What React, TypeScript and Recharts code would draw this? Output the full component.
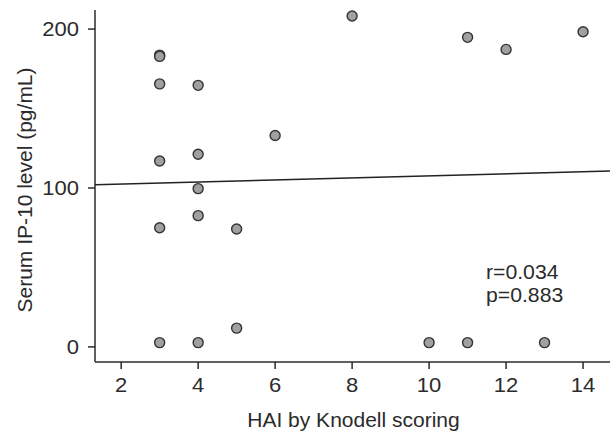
import { ComposedChart, Scatter, XAxis, YAxis, Label } from 'recharts'

// HAI by Knodell scoring vs serum IP-10 level
const haiScores = [3, 3, 3, 3, 3, 3, 4, 4, 4, 4, 4, 5, 5, 6, 8, 10, 11, 11, 12, 13, 14]
const ip10Levels = [183.6, 182.8, 165.5, 117, 75, 2.7, 164.6, 121.2, 99.6, 82.6, 2.7, 74.2, 11.8, 133, 208.2, 2.7, 194.8, 2.7, 187.2, 2.7, 198.3]

// fitted regression line end points
const fitX = [1.32, 14.7]
const fitY = [102, 110.7]

const xTicks = [2, 4, 6, 8, 10, 12, 14]
const yTicks = [0, 100, 200]

const points = haiScores.map((x, i) => ({ x, y: ip10Levels[i] }))
const fit = fitX.map((x, i) => ({ x, y: fitY[i] }))

const font = 'Arial, "Liberation Sans", sans-serif'
const ink = '#2b2b2b'

const Dot = (props: any) => (
  <circle cx={props.cx} cy={props.cy} r={5} fill="#a0a0a0" stroke="#333" strokeWidth={1.4} />
)

// tick text is a bit wide in the original, stretch it slightly
const XTick = (props: any) => (
  <g transform={`translate(${props.x},${props.y})`}>
    <text transform="scale(1.1,1)" textAnchor="middle" dy={18} fill={ink} fontSize={20} fontFamily={font}>
      {props.payload.value}
    </text>
  </g>
)

const YTick = (props: any) => (
  <g transform={`translate(${props.x},${props.y})`}>
    <text transform="scale(1.1,1)" textAnchor="end" dy={7} fill={ink} fontSize={20} fontFamily={font}>
      {props.payload.value}
    </text>
  </g>
)

export default function App() {
  return (
    <div style={{ position: 'absolute', left: 0, top: 0, width: 610, height: 433, background: '#fff', fontFamily: font }}>
      <ComposedChart width={610} height={433} margin={{ top: 10, right: 0, bottom: 0, left: 0 }}>
        <XAxis
          type="number"
          dataKey="x"
          domain={[1.32, 14.7]}
          ticks={xTicks}
          allowDataOverflow
          height={71}
          tickSize={7}
          tickMargin={5}
          stroke={ink}
          strokeWidth={1.5}
          tick={XTick}
        >
          <Label
            content={(p: any) => (
              <text x={p.viewBox.x + p.viewBox.width / 2 + 1} y={p.viewBox.y + 65} textAnchor="middle" fill={ink} fontSize={21} fontFamily={font}>
                HAI by Knodell scoring
              </text>
            )}
          />
        </XAxis>
        <YAxis
          type="number"
          dataKey="y"
          domain={[-9.5, 212]}
          ticks={yTicks}
          allowDataOverflow
          width={95}
          tickSize={7}
          tickMargin={9}
          stroke={ink}
          strokeWidth={1.5}
          tick={YTick}
        >
          <Label
            content={(p: any) => (
              <text
                transform={`translate(${p.viewBox.x + 32},${p.viewBox.y + p.viewBox.height / 2 + 4}) rotate(-90)`}
                textAnchor="middle"
                fill={ink}
                fontSize={21}
                fontFamily={font}
              >
                Serum IP-10 level (pg/mL)
              </text>
            )}
          />
        </YAxis>
        <Scatter data={fit} line={{ stroke: '#222', strokeWidth: 1.5 }} shape={() => null} isAnimationActive={false} />
        <Scatter data={points} shape={Dot} isAnimationActive={false} />
      </ComposedChart>
      <div style={{ position: 'absolute', left: 486, top: 261, fontSize: 20, lineHeight: '23px', color: ink, transform: 'scaleX(1.06)', transformOrigin: 'left top' }}>
        r=0.034
        <br />
        p=0.883
      </div>
    </div>
  )
}
